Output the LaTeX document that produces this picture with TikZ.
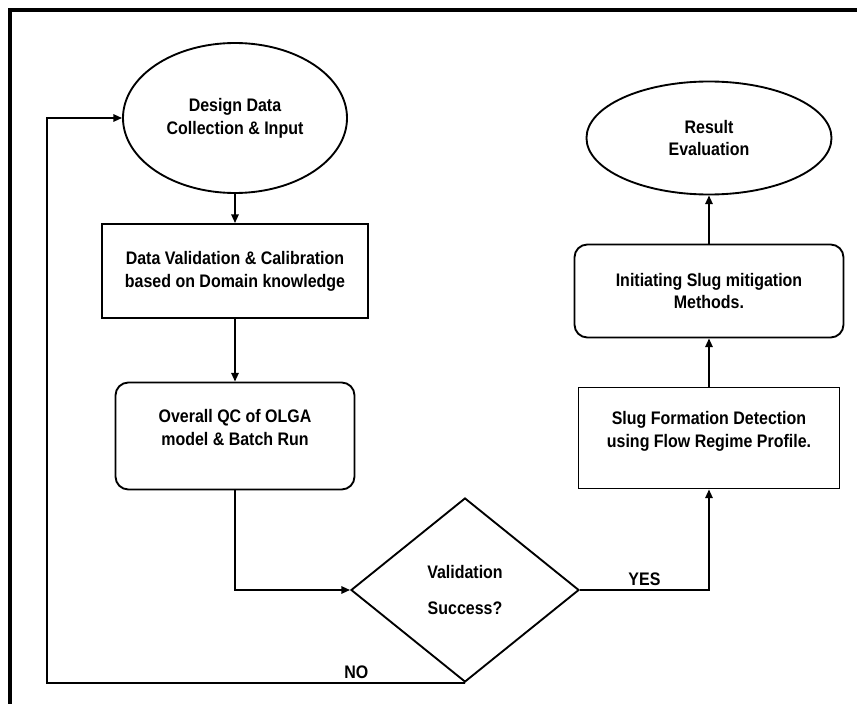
\documentclass[tikz,border=0pt]{standalone}
\usepackage{fontspec}
\setmainfont{Liberation Sans}[FakeStretch=0.88]
\usetikzlibrary{positioning, shapes.geometric, arrows.meta}

\begin{document}
\begin{tikzpicture}[
                x=0.03cm, y=-0.03cm,
                % Node styles
                box/.style={draw, line width=1.6pt, align=center, inner sep=2pt, font=\fontsize{15.5}{19.5}\selectfont\bfseries},
                proc/.style={box},
                rproc/.style={box, rounded corners=11pt},
                term/.style={box, ellipse, inner sep=0pt},
                decision/.style={box, diamond, inner sep=0pt, minimum width=6.84cm, minimum height=5.52cm},
                answer/.style={font=\fontsize{15.5}{19.5}\selectfont\bfseries, inner sep=3pt},
                % Arrow styles
                flow/.style={-{Triangle[length=2.6mm, width=2.2mm]}, line width=1.6pt},
            ]
                \useasboundingbox (0,0) rectangle (857,704);

                % Outer frame
                \draw[line width=2.6pt] (10,704) -- (10,10) -- (857,10);

                % Left column
                \node[term, minimum width=6.72cm, minimum height=4.5cm] (design) at (235,118) {Design Data\\Collection \& Input};
                \node[proc, minimum width=7.98cm, minimum height=2.82cm] (calib) at (235,271) {Data Validation \& Calibration\\based on Domain knowledge};
                \node[rproc, minimum width=7.17cm, minimum height=3.21cm] (qc) at (235,436) {Overall QC of OLGA\\model \& Batch Run\\[-5pt]\mbox{}};

                % Decision
                \node[decision] (valid) at (465,590) {Validation\\[12pt]Success?};

                % Right column
                \node[proc, minimum width=7.83cm, minimum height=3.03cm] (slug) at (709,438) {Slug Formation Detection\\using Flow Regime Profile.\\[-5pt]\mbox{}};
                \node[rproc, minimum width=8.07cm, minimum height=2.79cm] (mitig) at (709,291) {Initiating Slug mitigation\\Methods.};
                \node[term, minimum width=7.35cm, minimum height=3.39cm] (result) at (709,138) {Result\\Evaluation};

                % Main flow
                \draw[flow] (design) -- (calib);
                \draw[flow] (calib) -- (qc);
                \draw[flow] (qc.south) |- (valid.west);
                \draw[flow] (valid.east) -| node[answer, pos=0.25, above] {YES} (slug.south);
                \draw[flow] (slug) -- (mitig);
                \draw[flow] (mitig) -- (result);

                % Loop back
                \coordinate (back) at (47,683);
                \draw[flow] (valid.south) -- node[answer, pos=0.26, above] {NO} (back) |- (design.west);
            \end{tikzpicture}
\end{document}
